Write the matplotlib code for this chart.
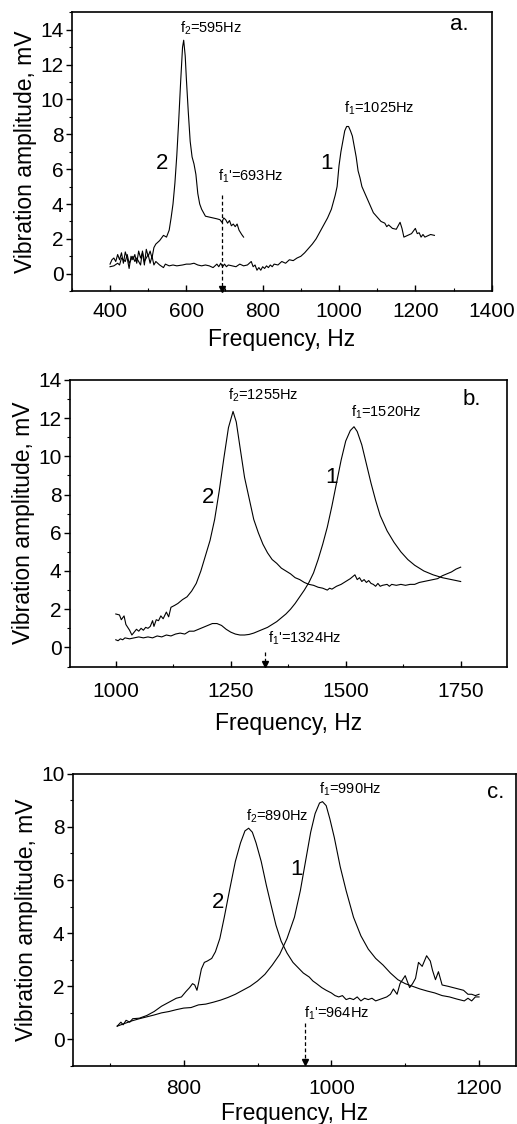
import matplotlib
matplotlib.use("Agg")
import matplotlib.pyplot as plt
from matplotlib.ticker import MultipleLocator

plt.rcParams['font.family'] = ['Liberation Sans', 'DejaVu Sans']
plt.rcParams['mathtext.fontset'] = 'custom'
plt.rcParams['mathtext.rm'] = 'Liberation Sans'
plt.rcParams['mathtext.it'] = 'Liberation Sans:italic'

# ---- panel a ----
a_x1 = [400, 410, 420, 425, 430, 440, 445, 450, 460, 465, 470, 480, 485, 490, 500, 505, 510, 515,
        520, 530, 540, 545, 555, 565, 575, 590, 600, 610, 620, 630, 640, 650, 660, 670, 680, 685,
        690, 695, 700, 705, 710, 720, 730, 740, 750, 760, 770, 775, 780, 785, 790, 795, 800, 805,
        810, 815, 820, 825, 830, 840, 850, 860, 870, 880, 890, 900, 910, 920, 930, 940, 950, 960,
        970, 980, 990, 995, 1000, 1005, 1010, 1015, 1020, 1025, 1030, 1035, 1040, 1045, 1050,
        1055, 1060, 1070, 1080, 1090, 1100, 1110, 1120, 1125, 1130, 1140, 1150, 1160, 1165, 1170,
        1180, 1190, 1200, 1205, 1210, 1215, 1220, 1225, 1230, 1240, 1250]
a_y1 = [0.4, 0.45, 0.6, 0.5, 0.9, 0.7, 1.1, 0.6, 1.0, 0.7, 0.9, 0.5, 1.3, 0.7, 1.1, 0.6, 1.0, 0.5,
        0.7, 0.5, 0.35, 0.55, 0.45, 0.5, 0.45, 0.5, 0.55, 0.55, 0.6, 0.5, 0.45, 0.5, 0.45, 0.35,
        0.55, 0.4, 0.6, 0.4, 0.55, 0.4, 0.5, 0.45, 0.4, 0.55, 0.45, 0.5, 0.7, 0.4, 0.5, 0.2, 0.35,
        0.2, 0.4, 0.3, 0.45, 0.35, 0.5, 0.4, 0.55, 0.5, 0.7, 0.6, 0.8, 0.75, 0.9, 1.0, 1.2, 1.45,
        1.7, 2.0, 2.4, 2.8, 3.2, 3.7, 4.5, 5.0, 6.2, 7.0, 7.6, 8.2, 8.45, 8.45, 8.2, 7.9, 7.3, 6.7,
        5.9, 5.5, 5.0, 4.5, 4.0, 3.5, 3.25, 3.0, 2.9, 2.7, 2.8, 2.6, 2.55, 2.95, 2.6, 2.1, 2.2, 2.3,
        2.6, 2.3, 2.35, 2.1, 2.25, 2.1, 2.15, 2.25, 2.2]
a_x2 = [400, 405, 410, 415, 420, 425, 430, 435, 440, 445, 450, 455, 460, 465, 470, 475, 480, 485,
        490, 495, 500, 505, 510, 515, 520, 530, 540, 548, 555, 560, 565, 570, 575, 580, 585, 590,
        593, 597, 600, 605, 610, 615, 620, 625, 630, 635, 640, 645, 650, 660, 670, 680, 688, 693,
        698, 703, 708, 713, 718, 723, 728, 733, 738, 745, 750]
a_y2 = [0.55, 0.8, 0.9, 0.7, 1.1, 0.8, 1.2, 0.6, 1.25, 0.9, 0.3, 1.0, 0.8, 1.1, 0.6, 1.3, 0.9, 1.2,
        0.5, 1.4, 1.0, 1.3, 0.9, 1.5, 1.7, 1.9, 2.2, 2.1, 2.5, 3.2, 4.0, 5.2, 6.8, 8.8, 11.0, 13.0,
        13.4, 12.5, 11.2, 9.3, 7.6, 6.7, 6.3, 5.7, 4.6, 4.0, 3.7, 3.5, 3.3, 3.25, 3.2, 3.15, 3.1,
        2.95, 3.2, 3.1, 2.9, 3.05, 2.75, 2.85, 2.7, 2.85, 2.5, 2.25, 2.1]
a_f1p = 693

# ---- panel b ----
b_x1 = [1000, 1005, 1010, 1015, 1020, 1030, 1040, 1050, 1060, 1070, 1080, 1090, 1100, 1110, 1120,
        1130, 1140, 1150, 1160, 1170, 1180, 1190, 1200, 1210, 1220, 1230, 1240, 1250, 1260, 1270,
        1280, 1290, 1300, 1310, 1320, 1330, 1340, 1350, 1360, 1370, 1380, 1390, 1400, 1410, 1420,
        1430, 1440, 1450, 1460, 1470, 1480, 1490, 1500, 1510, 1518, 1525, 1535, 1545, 1555, 1565,
        1575, 1590, 1605, 1620, 1635, 1650, 1670, 1690, 1710, 1730, 1750]
b_y1 = [0.4, 0.35, 0.45, 0.4, 0.5, 0.45, 0.5, 0.55, 0.5, 0.55, 0.5, 0.6, 0.55, 0.65, 0.6, 0.7,
        0.75, 0.7, 0.85, 0.85, 0.95, 1.05, 1.15, 1.25, 1.25, 1.15, 0.95, 0.8, 0.7, 0.65, 0.65, 0.68,
        0.75, 0.85, 0.95, 1.05, 1.2, 1.35, 1.55, 1.75, 2.0, 2.3, 2.65, 3.0, 3.4, 3.9, 4.6, 5.4, 6.3,
        7.4, 8.6, 9.8, 10.8, 11.35, 11.55, 11.3, 10.6, 9.6, 8.6, 7.7, 6.9, 6.1, 5.5, 5.0, 4.6, 4.3,
        4.0, 3.8, 3.65, 3.55, 3.45]
b_x2 = [1000, 1008, 1012, 1018, 1022, 1030, 1035, 1040, 1045, 1050, 1055, 1060, 1065, 1070, 1075,
        1080, 1083, 1088, 1093, 1098, 1103, 1110, 1115, 1120, 1128, 1135, 1145, 1155, 1165, 1175,
        1185, 1195, 1205, 1215, 1225, 1235, 1245, 1255, 1262, 1270, 1280, 1290, 1300, 1310, 1320,
        1330, 1340, 1350, 1360, 1370, 1380, 1390, 1395, 1400, 1410, 1420, 1430, 1440, 1450, 1460,
        1465, 1470, 1480, 1490, 1500, 1510, 1515, 1520, 1525, 1530, 1535, 1540, 1545, 1550, 1555,
        1560, 1565, 1570, 1575, 1580, 1590, 1595, 1600, 1610, 1620, 1630, 1640, 1650, 1660, 1670,
        1680, 1690, 1700, 1710, 1720, 1730, 1740, 1750]
b_y2 = [1.75, 1.7, 1.45, 1.65, 1.2, 0.9, 0.65, 0.8, 0.95, 0.85, 1.0, 0.9, 1.05, 1.0, 1.1, 1.4, 1.1,
        1.45, 1.4, 1.65, 1.5, 1.85, 1.6, 2.1, 2.2, 2.3, 2.5, 2.65, 2.95, 3.35, 4.0, 4.8, 5.6, 6.7,
        8.2, 9.9, 11.5, 12.35, 11.8, 10.5, 8.9, 7.8, 6.7, 6.0, 5.4, 4.95, 4.6, 4.4, 4.15, 4.0, 3.85,
        3.65, 3.6, 3.55, 3.4, 3.3, 3.25, 3.15, 3.1, 3.0, 3.1, 3.05, 3.2, 3.3, 3.45, 3.6, 3.7, 3.8,
        3.55, 3.65, 3.45, 3.55, 3.4, 3.5, 3.35, 3.3, 3.2, 3.35, 3.2, 3.25, 3.3, 3.2, 3.3, 3.25, 3.3,
        3.25, 3.3, 3.3, 3.4, 3.45, 3.5, 3.55, 3.6, 3.75, 3.85, 3.95, 4.1, 4.2]
b_f1p = 1324

# ---- panel c ----
c_x1 = [710, 720, 730, 740, 750, 760, 770, 780, 790, 800, 810, 815, 820, 830, 840, 850, 860, 870,
        880, 890, 900, 910, 920, 930, 940, 950, 958, 965, 972, 978, 984, 988, 993, 998, 1004, 1012,
        1020, 1030, 1040, 1050, 1060, 1070, 1080, 1090, 1100, 1110, 1120, 1130, 1140, 1150, 1160,
        1170, 1180, 1185, 1190, 1195, 1200]
c_y1 = [0.5, 0.6, 0.7, 0.78, 0.85, 0.92, 1.0, 1.05, 1.12, 1.18, 1.2, 1.25, 1.3, 1.33, 1.4, 1.48,
        1.58, 1.7, 1.85, 2.0, 2.2, 2.45, 2.8, 3.2, 3.8, 4.6, 5.6, 6.7, 7.8, 8.5, 8.9, 8.95, 8.8, 8.3,
        7.6, 6.5, 5.6, 4.6, 3.9, 3.4, 3.05, 2.8, 2.5, 2.25, 2.1, 2.0, 1.9, 1.82, 1.75, 1.65, 1.6,
        1.52, 1.45, 1.55, 1.45, 1.6, 1.6]
c_x2 = [710, 715, 718, 722, 727, 731, 740, 750, 760, 770, 780, 790, 797, 803, 808, 812, 815, 818,
        820, 824, 828, 832, 838, 843, 849, 855, 862, 870, 877, 883, 888, 893, 898, 905, 912, 918,
        925, 932, 940, 948, 955, 962, 970, 975, 980, 987, 993, 1000, 1005, 1010, 1015, 1020, 1025,
        1030, 1035, 1040, 1045, 1050, 1055, 1060, 1065, 1070, 1075, 1080, 1084, 1089, 1093, 1100,
        1106, 1110, 1114, 1118, 1123, 1129, 1134, 1137, 1141, 1145, 1150, 1158, 1165, 1172, 1179,
        1185, 1190, 1195, 1200]
c_y2 = [0.5, 0.65, 0.55, 0.72, 0.65, 0.78, 0.8, 0.9, 1.05, 1.25, 1.4, 1.55, 1.6, 1.8, 1.95, 2.1,
        2.05, 1.85, 2.1, 2.65, 2.9, 2.95, 3.05, 3.3, 3.8, 4.6, 5.6, 6.7, 7.4, 7.85, 7.95, 7.8, 7.4,
        6.7, 5.8, 5.1, 4.3, 3.7, 3.25, 2.9, 2.7, 2.5, 2.35, 2.2, 2.1, 1.95, 1.85, 1.75, 1.65, 1.6,
        1.65, 1.5, 1.55, 1.5, 1.6, 1.45, 1.55, 1.5, 1.55, 1.45, 1.5, 1.55, 1.6, 1.7, 1.9, 1.7, 2.1,
        2.4, 1.95, 2.1, 2.3, 2.9, 2.75, 3.15, 2.95, 2.6, 2.25, 2.55, 2.05, 2.0, 1.95, 1.9, 1.85,
        1.7, 1.7, 1.65, 1.7]
c_f1p = 964

fig = plt.figure(figsize=(5.17, 11.24), dpi=100)

def setup(ax, xlim, ylim, xmaj, ymaj, xpad, xlabpad):
    ax.set_xlim(*xlim)
    ax.set_ylim(*ylim)
    ax.xaxis.set_major_locator(MultipleLocator(xmaj))
    ax.xaxis.set_minor_locator(MultipleLocator(xmaj / 2))
    ax.yaxis.set_major_locator(MultipleLocator(ymaj))
    ax.yaxis.set_minor_locator(MultipleLocator(ymaj / 2))
    ax.tick_params(axis='x', which='major', direction='in', length=4, width=1.0,
                   labelsize=15, pad=xpad)
    ax.tick_params(axis='x', which='minor', direction='in', length=2.5, width=0.8)
    ax.tick_params(axis='y', which='major', direction='out', length=4, width=1.0,
                   labelsize=15, pad=2)
    ax.tick_params(axis='y', which='minor', direction='out', length=2.5, width=0.8)
    for s in ax.spines.values():
        s.set_linewidth(1.2)
    ax.set_xlabel('Frequency, Hz', fontsize=16.5, labelpad=xlabpad)
    ax.set_ylabel('Vibration amplitude, mV', fontsize=16.5, labelpad=2)

def arrow(ax, x, ytop, ybot):
    ax.plot([x, x], [ytop, ybot + 0.25], color='k', lw=0.9, ls=(0, (3, 2)), clip_on=False)
    ax.plot([x], [ybot + 0.15], marker='v', color='k', ms=4, clip_on=False)

lw = 0.8
ann = 10.5
big = 16

# panel a
ax = fig.add_axes([0.139, 0.741, 0.812, 0.248])
ax.plot(a_x1, a_y1, color='k', lw=lw)
ax.plot(a_x2, a_y2, color='k', lw=lw)
setup(ax, (300, 1400), (-1, 15), 200, 2, 8, 5)
ax.set_yticks([0, 2, 4, 6, 8, 10, 12, 14])
arrow(ax, a_f1p, 4.5, -1)
ax.text(683, 5.6, "f$_1$'=693Hz", fontsize=ann, va='center')
ax.text(583, 14.1, "f$_2$=595Hz", fontsize=ann, va='center')
ax.text(1012, 9.5, "f$_1$=1025Hz", fontsize=ann, va='center')
ax.text(537, 6.3, '2', fontsize=big, ha='center', va='center')
ax.text(966, 6.3, '1', fontsize=big, ha='center', va='center')
ax.text(1314, 14.3, 'a.', fontsize=big, ha='center', va='center')

# panel b
ax = fig.add_axes([0.135, 0.407, 0.845, 0.255])
ax.plot(b_x1, b_y1, color='k', lw=lw)
ax.plot(b_x2, b_y2, color='k', lw=lw)
setup(ax, (900, 1850), (-1, 14), 250, 2, 11, 8)
arrow(ax, b_f1p, -0.25, -1)
ax.text(1330, 0.5, "f$_1$'=1324Hz", fontsize=ann, va='center')
ax.text(1244, 13.2, "f$_2$=1255Hz", fontsize=ann, va='center')
ax.text(1511, 12.3, "f$_1$=1520Hz", fontsize=ann, va='center')
ax.text(1201, 7.85, '2', fontsize=big, ha='center', va='center')
ax.text(1470, 8.9, '1', fontsize=big, ha='center', va='center')
ax.text(1775, 13.0, 'b.', fontsize=big, ha='center', va='center')

# panel c
ax = fig.add_axes([0.141, 0.0516, 0.857, 0.260])
ax.plot(c_x1, c_y1, color='k', lw=lw)
ax.plot(c_x2, c_y2, color='k', lw=lw)
setup(ax, (650, 1250), (-1, 10), 200, 2, 9, 3)
arrow(ax, c_f1p, 0.6, -1)
ax.text(963, 1.0, "f$_1$'=964Hz", fontsize=ann, va='center')
ax.text(885, 8.4, "f$_2$=890Hz", fontsize=ann, va='center')
ax.text(983, 9.4, "f$_1$=990Hz", fontsize=ann, va='center')
ax.text(846, 5.15, '2', fontsize=big, ha='center', va='center')
ax.text(953, 6.4, '1', fontsize=big, ha='center', va='center')
ax.text(1222, 9.3, 'c.', fontsize=big, ha='center', va='center')

fig.savefig('out.png', dpi=100)
